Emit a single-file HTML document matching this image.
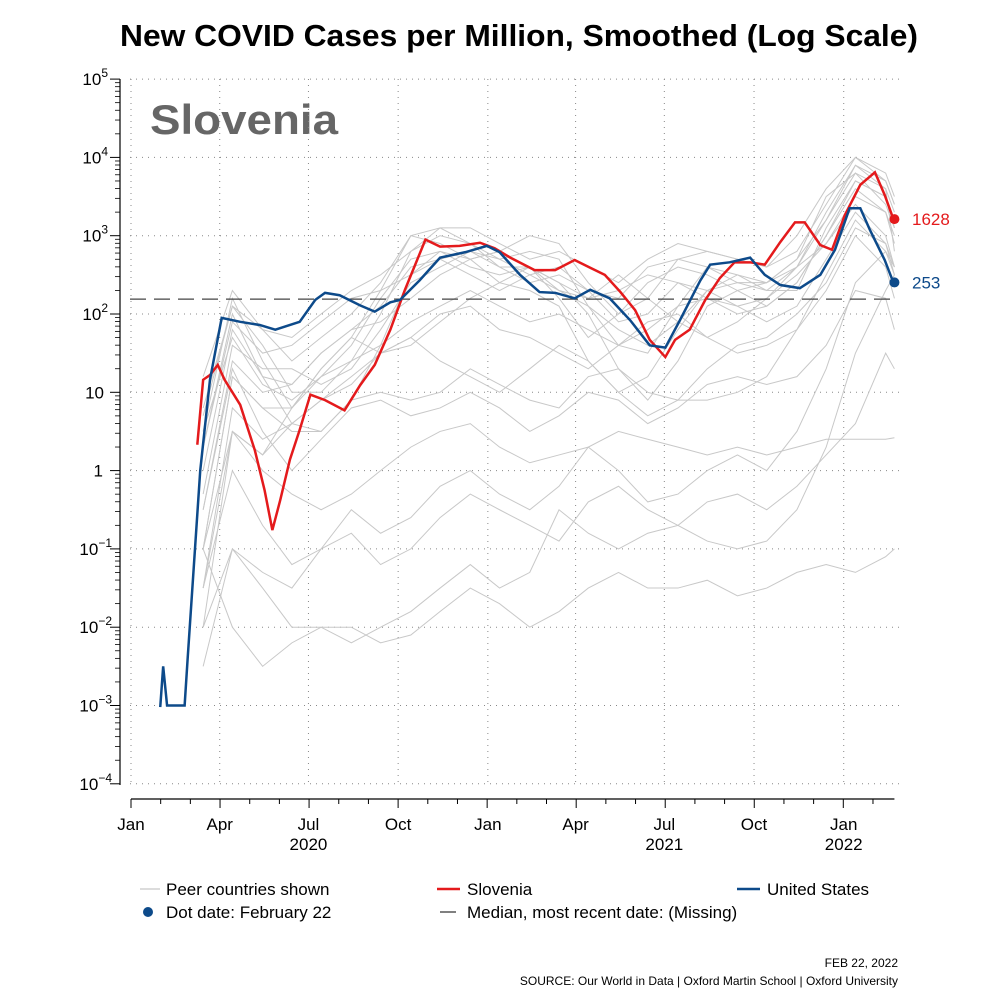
<!DOCTYPE html>
<html><head><meta charset="utf-8"><style>
body{margin:0;background:#fff;}
svg{display:block;font-family:"Liberation Sans",sans-serif;}
</style></head><body>
<svg id="chart" width="1000" height="1000" viewBox="0 0 1000 1000" xmlns="http://www.w3.org/2000/svg">
<text x="519" y="46" text-anchor="middle" font-size="31" font-weight="bold" textLength="798" lengthAdjust="spacingAndGlyphs">New COVID Cases per Million, Smoothed (Log Scale)</text>
<text x="150" y="134" font-size="42" font-weight="bold" fill="#666" textLength="188" lengthAdjust="spacingAndGlyphs">Slovenia</text>
<g id="grid"></g><g id="axes"></g><g id="peers"></g><g id="main"></g>
<g font-size="17">
<line x1="140" y1="889" x2="160" y2="889" stroke="#c8c8c8" stroke-width="1.2"/>
<text x="166" y="895">Peer countries shown</text>
<line x1="437" y1="889" x2="460" y2="889" stroke="#e41a1c" stroke-width="2.5"/>
<text x="467" y="895">Slovenia</text>
<line x1="737" y1="889" x2="760" y2="889" stroke="#0d4a8a" stroke-width="2.5"/>
<text x="767" y="895">United States</text>
<circle cx="148" cy="912" r="5" fill="#0d4a8a"/>
<text x="166" y="918">Dot date: February 22</text>
<line x1="440" y1="912" x2="456" y2="912" stroke="#000" stroke-width="1"/>
<text x="467" y="918">Median, most recent date: (Missing)</text>
</g>
<text x="898" y="967" text-anchor="end" font-size="12">FEB 22, 2022</text>
<text x="898" y="985" text-anchor="end" font-size="12">SOURCE: Our World in Data | Oxford Martin School | Oxford University</text>
</svg>
<script>
const usDays=[30,33,37,55,58,71,81,93,112,132,148,173,189,199,214,235,250,266,276,296,317,343,365,378,399,419,435,455,471,491,512,532,548,563,584,594,614,635,650,666,686,707,722,737,748,758,773,782];
const usVals=[-3.02,-2.5,-3.0,-3.0,-2.42,0.0,1.16,1.95,1.9,1.86,1.8,1.9,2.18,2.27,2.24,2.11,2.03,2.15,2.18,2.43,2.72,2.79,2.87,2.79,2.5,2.28,2.27,2.2,2.31,2.2,1.92,1.6,1.57,1.92,2.43,2.63,2.66,2.72,2.5,2.37,2.33,2.5,2.82,3.35,3.35,3.07,2.69,2.40];
const siDays=[68,74,81,89,96,112,127,137,145,153,163,173,184,199,219,235,250,266,281,302,317,337,358,373,389,414,435,455,471,486,502,517,532,548,558,573,589,604,619,635,650,666,681,691,707,719,732,748,763,773,782];
const siVals=[0.33,1.16,1.22,1.35,1.16,0.84,0.26,-0.25,-0.76,-0.38,0.14,0.52,0.97,0.9,0.77,1.09,1.35,1.8,2.31,2.95,2.86,2.87,2.91,2.84,2.72,2.56,2.56,2.69,2.59,2.5,2.28,2.05,1.67,1.45,1.67,1.8,2.18,2.46,2.66,2.66,2.63,2.92,3.17,3.17,2.88,2.82,3.26,3.65,3.81,3.52,3.21];
const peerDays=[74,104,135,165,195,226,256,287,317,348,378,409,439,469,500,530,561,591,622,652,683,713,743,774,783];
const peer1=[0.8,2.1,1.6,1.0,1.0,1.4,2.0,2.8,3.0,2.9,2.6,2.6,2.2,1.7,2.0,2.4,2.6,2.5,2.3,2.4,2.7,3.5,3.8,3.6,3.3];
const peer2=[0.5,2.2,1.4,0.8,1.3,1.7,2.3,3.0,3.1,2.9,2.7,2.8,2.7,2.1,1.6,1.5,2.1,2.6,2.5,2.3,2.6,3.3,3.9,3.7,3.4];
const peer3=[1.2,2.3,1.8,1.4,1.7,2.0,2.4,3.0,2.9,2.7,2.8,3.0,2.9,2.4,2.0,2.2,2.7,2.8,2.7,2.6,3.0,3.6,4.0,3.8,3.5];
const peer4=[0.0,1.8,1.2,0.6,0.5,0.9,1.6,2.5,2.8,2.7,2.4,2.3,2.1,1.4,1.0,1.2,1.8,2.3,2.4,2.3,2.3,3.1,3.7,3.5,3.2];
const peer5=[0.3,1.9,1.5,1.6,1.9,2.2,2.3,2.5,2.7,2.8,2.6,2.4,2.5,2.3,2.2,2.6,2.7,2.6,2.4,2.4,2.7,3.2,3.8,3.4,3.1];
const peer6=[-0.5,1.4,1.0,1.1,1.5,1.8,1.9,2.2,2.5,2.7,2.8,2.6,2.4,2.2,2.3,2.5,2.4,2.2,2.0,2.1,2.4,3.0,3.6,3.3,2.9];
const peer7=[-1.0,1.2,0.8,0.8,1.2,1.4,1.6,1.9,2.1,2.3,2.1,1.9,2.0,1.8,1.6,1.8,2.1,2.2,2.1,1.9,2.1,2.7,3.3,2.9,2.5];
const peer8=[-1.0,1.2,0.8,0.5,0.5,0.9,1.0,0.9,1.0,1.3,1.1,0.9,0.8,1.2,1.3,1.0,0.9,0.9,1.0,1.2,1.8,2.5,3.2,2.8,2.5];
const peer9=[-1.5,0.8,0.4,0.6,0.9,1.1,1.5,1.7,2.0,2.1,1.8,1.7,1.5,1.3,1.6,1.9,2.0,1.7,1.5,1.6,1.8,2.3,3.0,2.6,2.2];
const peer10=[-1.0,0.5,0.0,-0.3,-0.5,-0.3,0.0,0.3,0.5,0.6,0.3,0.1,0.2,0.3,0.5,0.4,0.3,0.2,0.3,0.2,0.3,0.4,0.4,0.4,0.42];
const peer11=[-2.0,-1.0,-1.5,-2.0,-2.0,-2.2,-2.0,-1.8,-1.5,-1.2,-1.5,-1.3,-0.5,-0.8,-1.0,-0.8,-0.7,-0.9,-1.0,-0.9,-0.5,0.3,1.5,2.3,2.5];
const peer12=[-1.0,-2.0,-2.5,-2.2,-2.0,-2.0,-2.2,-2.1,-1.8,-1.5,-1.7,-2.0,-1.8,-1.5,-1.3,-1.5,-1.5,-1.4,-1.6,-1.5,-1.3,-1.2,-1.3,-1.1,-1.0];
const peer13=[-1.5,0.0,-0.7,-1.2,-1.0,-0.5,-0.8,-0.6,-0.2,0.0,-0.3,-0.5,-0.2,0.3,0.0,-0.4,-0.3,0.0,0.2,0.0,0.5,1.3,2.4,2.8,2.6];
const peer14=[-0.5,1.3,0.5,0.0,0.4,0.8,0.9,0.7,0.8,1.0,0.8,0.5,0.7,1.0,0.9,0.6,0.8,1.1,1.2,1.1,1.2,1.6,2.3,2.2,1.8];
const peer15=[0.7,2.1,1.8,1.7,2.0,2.3,2.5,2.8,3.1,3.1,2.9,2.7,2.8,2.6,2.4,2.7,2.9,2.8,2.7,2.6,2.8,3.4,4.0,3.7,3.4];
const peer16=[-2.0,0.5,0.2,0.8,1.3,1.7,1.5,1.6,1.9,2.2,2.4,2.6,2.3,2.2,2.5,2.2,1.9,1.7,1.9,2.2,2.6,2.9,3.4,3.0,2.6];
const peer17=[-2.5,-1.0,-1.3,-1.5,-1.0,-0.8,-1.2,-1.0,-0.6,-0.3,-0.5,-0.7,-0.9,-0.4,-0.2,-0.5,-0.7,-0.4,-0.3,-0.5,-0.2,0.2,0.6,1.5,1.3];
const peer18=[0.3,2.0,1.2,1.1,1.5,1.8,2.1,2.6,2.7,2.5,2.3,2.5,2.6,2.3,1.9,2.0,2.4,2.3,2.1,2.2,2.5,2.9,3.5,3.3,3.0];
const peer19=[-1.5,0.5,0.2,0.6,0.9,1.2,1.5,1.7,1.4,1.2,1.0,1.3,1.6,1.4,1.0,0.7,0.9,1.3,1.6,1.7,2.0,2.4,3.1,2.9,2.6];
const peer20=[0.5,1.7,1.1,0.9,1.2,1.6,2.2,2.7,2.8,2.6,2.5,2.6,2.4,2.0,1.3,0.9,1.4,2.1,2.3,2.1,2.4,3.0,3.7,3.5,3.1];
const peer21=[-0.3,1.6,1.3,1.3,1.1,1.3,1.8,2.4,2.6,2.8,2.7,2.5,2.3,2.1,1.8,1.6,1.9,2.3,2.5,2.4,2.6,3.2,3.9,3.6,2.8];
const peerSeries=[peer1,peer2,peer3,peer4,peer5,peer6,peer7,peer8,peer9,peer10,peer11,peer12,peer13,peer14,peer15,peer16,peer17,peer18,peer19,peer20,peer21];
const yTickExps=[5,4,3,2,1,0,-1,-2,-3,-4];
const xTickMonths=["Jan","Apr","Jul","Oct","Jan","Apr","Jul","Oct","Jan"];
const xTickDays=[0,91,182,274,366,456,547,639,731];
const yearLabels=["2020","2021","2022"];
const yearDays=[182,547,731];
const medianVal=155;
const siLast=1628, usLast=253, lastDay=783;

const NS="http://www.w3.org/2000/svg";
const X=d=>131+d*0.975;
const Y=l=>314-(l-2)*78.3;
function mk(tag,attrs,parent){const e=document.createElementNS(NS,tag);for(const k in attrs)e.setAttribute(k,attrs[k]);parent.appendChild(e);return e;}
const grid=document.getElementById('grid'),axes=document.getElementById('axes'),peers=document.getElementById('peers'),main=document.getElementById('main');
yTickExps.forEach(e=>{const l=mk('line',{x1:130,x2:900,y1:Y(e),y2:Y(e),stroke:'#888','stroke-width':1,'stroke-dasharray':'1 5'},grid);

});
xTickDays.forEach(d=>{const l=mk('line',{x1:X(d),x2:X(d),y1:79,y2:785,stroke:'#888','stroke-width':1,'stroke-dasharray':'1 5'},grid);

});
const ya=mk('line',{x1:120,x2:120,y1:79,y2:785,stroke:'#000','stroke-width':1.2},axes);


yTickExps.forEach(e=>{
 mk('line',{x1:110,x2:120,y1:Y(e),y2:Y(e),stroke:'#000'},axes);
 if(e>-4)for(let m=2;m<10;m++){const yy=Y(e-1+Math.log10(m));mk('line',{x1:115,x2:120,y1:yy,y2:yy,stroke:'#000','stroke-width':0.8},axes);}
 const t=mk('text',{x:103,y:Y(e)+6,'text-anchor':'end','font-size':17},axes);
 
 
 if(e===0)t.textContent='1';else if(e===1){t.textContent='10';t.setAttribute('x',104);}
 else{t.textContent='10';const s=mk('tspan',{dy:-8,'font-size':12},t);s.textContent=String(e).replace('-','\u2212');t.setAttribute('x',e<0?112:108);}
});
const xa=mk('line',{x1:X(0),x2:X(783),y1:799,y2:799,stroke:'#000','stroke-width':1.2},axes);


for(let m=0;m<=25;m++){const d=m*30.44;mk('line',{x1:X(d),x2:X(d),y1:799,y2:m%3===0?808:804,stroke:'#000'},axes);}
xTickMonths.forEach((s,i)=>{const t=mk('text',{x:X(xTickDays[i]),y:830,'text-anchor':'middle','font-size':17},axes);t.textContent=s;

});
yearLabels.forEach((s,i)=>{const t=mk('text',{x:X(yearDays[i]),y:850,'text-anchor':'middle','font-size':17},axes);t.textContent=s;

});
peerSeries.forEach(v=>{const p=mk('polyline',{points:v.map((l,i)=>X(peerDays[i])+','+Y(l)).join(' '),fill:'none',stroke:'#c8c8c8','stroke-width':1},peers);

});
const md=mk('line',{x1:130,x2:893,y1:Y(Math.log10(medianVal)),y2:Y(Math.log10(medianVal)),stroke:'#444','stroke-width':1.2,'stroke-dasharray':'16 8'},main);


const si=mk('polyline',{points:siVals.map((l,i)=>X(siDays[i])+','+Y(l)).join(' '),fill:'none',stroke:'#e41a1c','stroke-width':2.5},main);


const us=mk('polyline',{points:usVals.map((l,i)=>X(usDays[i])+','+Y(l)).join(' '),fill:'none',stroke:'#0d4a8a','stroke-width':2.5},main);


[[siLast,'#e41a1c','slovenia'],[usLast,'#0d4a8a','us']].forEach(([v,c,n])=>{
 const d=mk('circle',{cx:X(lastDay),cy:Y(Math.log10(v)),r:5,fill:c},main);
 
 
 const t=mk('text',{x:912,y:Y(Math.log10(v))+6,fill:c,'font-size':17},main);t.textContent=String(v);
 
 
});
</script>
</body></html>
